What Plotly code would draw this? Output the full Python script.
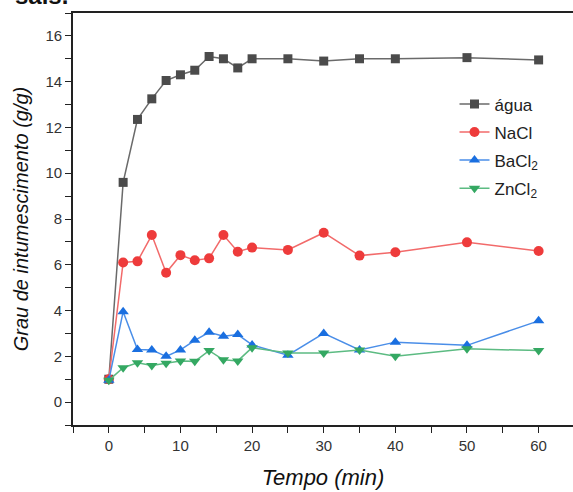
import plotly.graph_objects as go

tempo = [0, 2, 4, 6, 8, 10, 12, 14, 16, 18, 20, 25, 30, 35, 40, 50, 60]
agua = [1.0, 9.6, 12.35, 13.25, 14.05, 14.3, 14.5, 15.1, 15.0, 14.6, 15.0, 15.0, 14.9, 15.0, 15.0, 15.05, 14.95]
nacl = [1.0, 6.1, 6.15, 7.3, 5.65, 6.42, 6.2, 6.28, 7.3, 6.57, 6.75, 6.65, 7.4, 6.4, 6.55, 6.98, 6.6]
bacl2 = [0.95, 3.95, 2.3, 2.28, 2.0, 2.28, 2.7, 3.05, 2.88, 2.95, 2.5, 2.05, 3.0, 2.28, 2.62, 2.48, 3.55]
zncl2 = [0.95, 1.5, 1.72, 1.6, 1.7, 1.8, 1.78, 2.25, 1.85, 1.8, 2.38, 2.15, 2.15, 2.28, 2.0, 2.33, 2.25]

series = [
    ("água", agua, "#4b4b4b", "#6a6a6a", "square"),
    ("NaCl", nacl, "#ee3b3b", "#f26a6a", "circle"),
    ("BaCl<sub>2</sub>", bacl2, "#1a6fe0", "#4a8ee8", "triangle-up"),
    ("ZnCl<sub>2</sub>", zncl2, "#34a862", "#5cbb82", "triangle-down"),
]

fig = go.Figure()
for i, (name, vals, mcol, lcol, sym) in enumerate(series):
    fig.add_trace(go.Scatter(
        x=tempo, y=vals, name=name, mode="lines+markers", legendgroup=f"g{i}",
        line=dict(color=lcol, width=1.5),
        marker=dict(symbol=sym, size=10 if sym != "square" else 9, color=mcol),
    ))

axis_font = dict(family="Arial, Liberation Sans, sans-serif", size=15, color="#333333")

fig.update_layout(
    width=573, height=492,
    margin=dict(l=73, r=0, t=13, b=67),
    paper_bgcolor="white", plot_bgcolor="white",
    font=dict(family="Arial, Liberation Sans, sans-serif", color="#222222"),
    showlegend=True,
    legend=dict(x=0.763, y=0.822, xanchor="left", yanchor="top",
                font=dict(size=17, color="#222222"), bgcolor="rgba(0,0,0,0)",
                tracegroupgap=3),
    xaxis=dict(
        range=[-5, 64.8], tickvals=[0, 10, 20, 30, 40, 50, 60],
        ticks="outside", ticklen=6, tickwidth=1.3, tickcolor="#222222",
        minor=dict(dtick=5, tick0=0, ticks="outside", ticklen=6, tickwidth=1.3, tickcolor="#222222"),
        showline=True, linecolor="#222222", linewidth=1.6, mirror=True,
        showgrid=False, zeroline=False, tickfont=axis_font,
        title=dict(text="<i>Tempo (min)</i>", font=dict(size=22, color="#111111"), standoff=17),
    ),
    yaxis=dict(
        range=[-1, 17], tickvals=[0, 2, 4, 6, 8, 10, 12, 14, 16],
        ticks="outside", ticklen=6, tickwidth=1.3, tickcolor="#222222",
        minor=dict(dtick=1, tick0=0, ticks="outside", ticklen=6, tickwidth=1.3, tickcolor="#222222"),
        showline=True, linecolor="#222222", linewidth=1.6, mirror=False,
        showgrid=False, zeroline=False, tickfont=axis_font,
        title=dict(text="<i>Grau de intumescimento (g/g)</i>", font=dict(size=20, color="#111111"), standoff=12),
    ),
    annotations=[dict(text="<b>sais.</b>", xref="paper", yref="paper",
                      x=-0.12, y=1.005, xanchor="left", yanchor="bottom",
                      showarrow=False, font=dict(size=24, color="#111111"))],
)

fig.write_html("out.html")
